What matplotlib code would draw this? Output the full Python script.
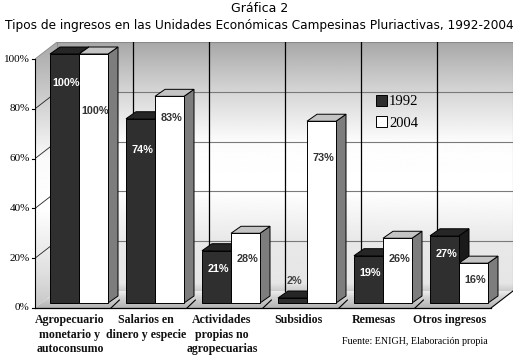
import numpy as np
import matplotlib
matplotlib.use("Agg")
import matplotlib.pyplot as plt
from matplotlib.patches import Polygon, Patch

# ---- data ----
categories = ["Agropecuario\nmonetario y\nautoconsumo",
              "Salarios en\ndinero y especie",
              "Actividades\npropias no\nagropecuarias",
              "Subsidios", "Remesas", "Otros ingresos"]
series_names = ["1992", "2004"]
v1992 = [100, 74, 21, 2, 19, 27]
v2004 = [100, 83, 28, 73, 26, 16]
yticks = [0, 20, 40, 60, 80, 100]
title1 = "Gráfica 2"
title2 = "Tipos de ingresos en las Unidades Económicas Campesinas Pluriactivas, 1992-2004"
source = "Fuente: ENIGH, Elaboración propia"

# ---- style / geometry ----
W, H = 519, 362
fig = plt.figure(figsize=(W / 100, H / 100), dpi=100)
fig.patch.set_facecolor("white")

x0px, x1px, y0px, y1px = 35, 513, 308, 42   # axes box in pixels (top-down y)
ax = fig.add_axes([x0px / W, 1 - y0px / H, (x1px - x0px) / W, (y0px - y1px) / H])
ax.axis("off")

pxu = 76.0        # px per category
pyu = 2.49        # px per percent
DX, DY = 22 / pxu, 17 / pyu        # wall depth
BX, BY = 6 / pxu, 5 / pyu          # bar front offset
BDX, BDY = 10 / pxu, 7 / pyu       # bar depth
BW = 29 / pxu                      # bar width
n = len(categories)
ymax = yticks[-1]
ax.set_xlim(0, n + DX)
ax.set_ylim(0, ymax + DY)

def grad_img(keys_y, keys_v, extent, clip=None, zorder=0):
    yy = np.linspace(extent[2], extent[3], 300)
    vals = np.interp(yy, keys_y, keys_v)[:, None]
    im = ax.imshow(vals, cmap="gray", vmin=0, vmax=1, origin="lower",
                   extent=extent, aspect="auto", interpolation="bilinear",
                   zorder=zorder)
    if clip is not None:
        im.set_clip_path(clip)
    return im

# back wall gradient (in back-wall percent coordinates)
ky = np.array([0, 3, 20, 40, 60, 80, 100]) + DY
kv = [0.80, 0.90, 0.91, 1.0, 0.99, 0.84, 0.66]
grad_img(ky, kv, (DX, n + DX, DY, ymax + DY))

# side wall
side = Polygon([(0, 0), (DX, DY), (DX, ymax + DY), (0, ymax)], closed=True,
               facecolor="none", edgecolor="none")
ax.add_patch(side)
ky2 = [0, 15, 40, 60, 85, 100 + DY]
kv2 = [0.78, 0.88, 1.0, 0.98, 0.8, 0.66]
grad_img(ky2, kv2, (0, DX, 0, ymax + DY), clip=side)

# floor
floor = Polygon([(0, 0), (n, 0), (n + DX, DY), (DX, DY)], closed=True,
                facecolor="none", edgecolor="none")
ax.add_patch(floor)
grad_img([0, DY * 0.6, DY], [0.70, 0.82, 0.93], (0, n + DX, 0, DY), clip=floor)

# back wall grid lines
for v in yticks[1:-1]:
    ax.plot([DX, n + DX], [v + DY, v + DY], color="#7a7a7a", lw=0.8, zorder=1)
    ax.plot([0, DX], [v, v + DY], color="#222222", lw=0.6, zorder=1)
ax.plot([DX, n + DX], [ymax + DY, ymax + DY], color="#8a8a8a", lw=0.8, zorder=1)
ax.plot([n + DX, n + DX], [DY, ymax + DY], color="#8a8a8a", lw=0.8, zorder=1)
ax.plot([0, DX], [ymax, ymax + DY], color="#8a8a8a", lw=0.6, zorder=1)
ax.plot([DX, DX], [DY, ymax + DY], color="#8a8a8a", lw=0.6, zorder=1)
for i in range(1, n):
    ax.plot([i + DX, i + DX], [DY, ymax + DY], color="black", lw=0.9, zorder=1)

# front axis & floor edges
ax.plot([0, 0], [0, ymax], color="black", lw=0.8, zorder=2, clip_on=False)
ax.plot([0, n], [0, 0], color="black", lw=0.9, zorder=2, clip_on=False)
ax.plot([n, n + DX], [0, DY], color="black", lw=0.8, zorder=2)
for i in range(1, n):
    ax.plot([i, i + 0.11], [0, 3.2], color="black", lw=0.8, zorder=2)
for v in yticks:
    ax.plot([-0.04, 0], [v, v], color="black", lw=0.8, clip_on=False, zorder=2)
    ax.text(-0.07, v, f"{v}%", ha="right", va="center", fontsize=8,
            family="Liberation Serif", color="black", clip_on=False)

# ---- bars ----
front_cols = ["#2f2f2f", "#ffffff"]
top_cols = ["#262626", "#c4c4c4"]
side_cols = ["#1a1a1a", "#7d7d7d"]
label_cols = ["white", "#333333"]
off_dark = [29, 31, 18, -17, 17, 18]     # px below bar top
off_white = [57, 22, 26, 37, 21, 17]
series = [v1992, v2004]
offsets = [off_dark, off_white]

z = 3
for i in range(n):
    for j, vals in enumerate(series):
        v = vals[i]
        xl = i + 0.5 - BW + j * BW + BX
        xr = xl + BW
        yb = BY
        yt = BY + v
        front = Polygon([(xl, yb), (xr, yb), (xr, yt), (xl, yt)], closed=True,
                        facecolor=front_cols[j], edgecolor="black", lw=0.7, zorder=z)
        top = Polygon([(xl, yt), (xr, yt), (xr + BDX, yt + BDY), (xl + BDX, yt + BDY)],
                      closed=True, facecolor=top_cols[j], edgecolor="black", lw=0.7, zorder=z)
        sd = Polygon([(xr, yb), (xr + BDX, yb + BDY), (xr + BDX, yt + BDY), (xr, yt)],
                     closed=True, facecolor=side_cols[j], edgecolor="black", lw=0.7, zorder=z)
        for p in (sd, top, front):
            ax.add_patch(p)
        z += 1
        off = offsets[j][i] / pyu
        col = label_cols[j] if off > 0 else "#444444"
        ax.text((xl + xr) / 2 + 0.02, yt - off, f"{v}%", ha="center", va="center",
                fontsize=7.8, fontweight="bold", family="Liberation Sans",
                color=col, zorder=50)

# category labels
for i, c in enumerate(categories):
    ax.text(i + 0.46, -2.6, c, ha="center", va="top", fontsize=8.6,
            family="Liberation Serif", fontweight="bold", color="#111111",
            linespacing=1.25, clip_on=False)

# legend
handles = [Patch(facecolor=front_cols[k], edgecolor="black", lw=0.7, label=series_names[k])
           for k in range(2)]
fig.legend(handles=handles, loc="upper left", bbox_to_anchor=(376 / W, 1 - 95 / H),
           frameon=False, prop={"family": "Liberation Serif", "size": 10.5},
           handlelength=0.75, handleheight=0.75, handletextpad=0.15,
           labelspacing=0.55, borderpad=0.0, borderaxespad=0.0)

# titles
fig.text(0.5, 1 - 9 / H, title1, ha="center", va="center", fontsize=9,
         family="DejaVu Sans")
fig.text(0.5, 1 - 26 / H, title2, ha="center", va="center", fontsize=8.7,
         family="DejaVu Sans")
fig.text(488 / W, 1 - 342 / H, source, ha="right", va="center", fontsize=7.2,
         family="Liberation Serif")

fig.savefig("out.png", dpi=100)
